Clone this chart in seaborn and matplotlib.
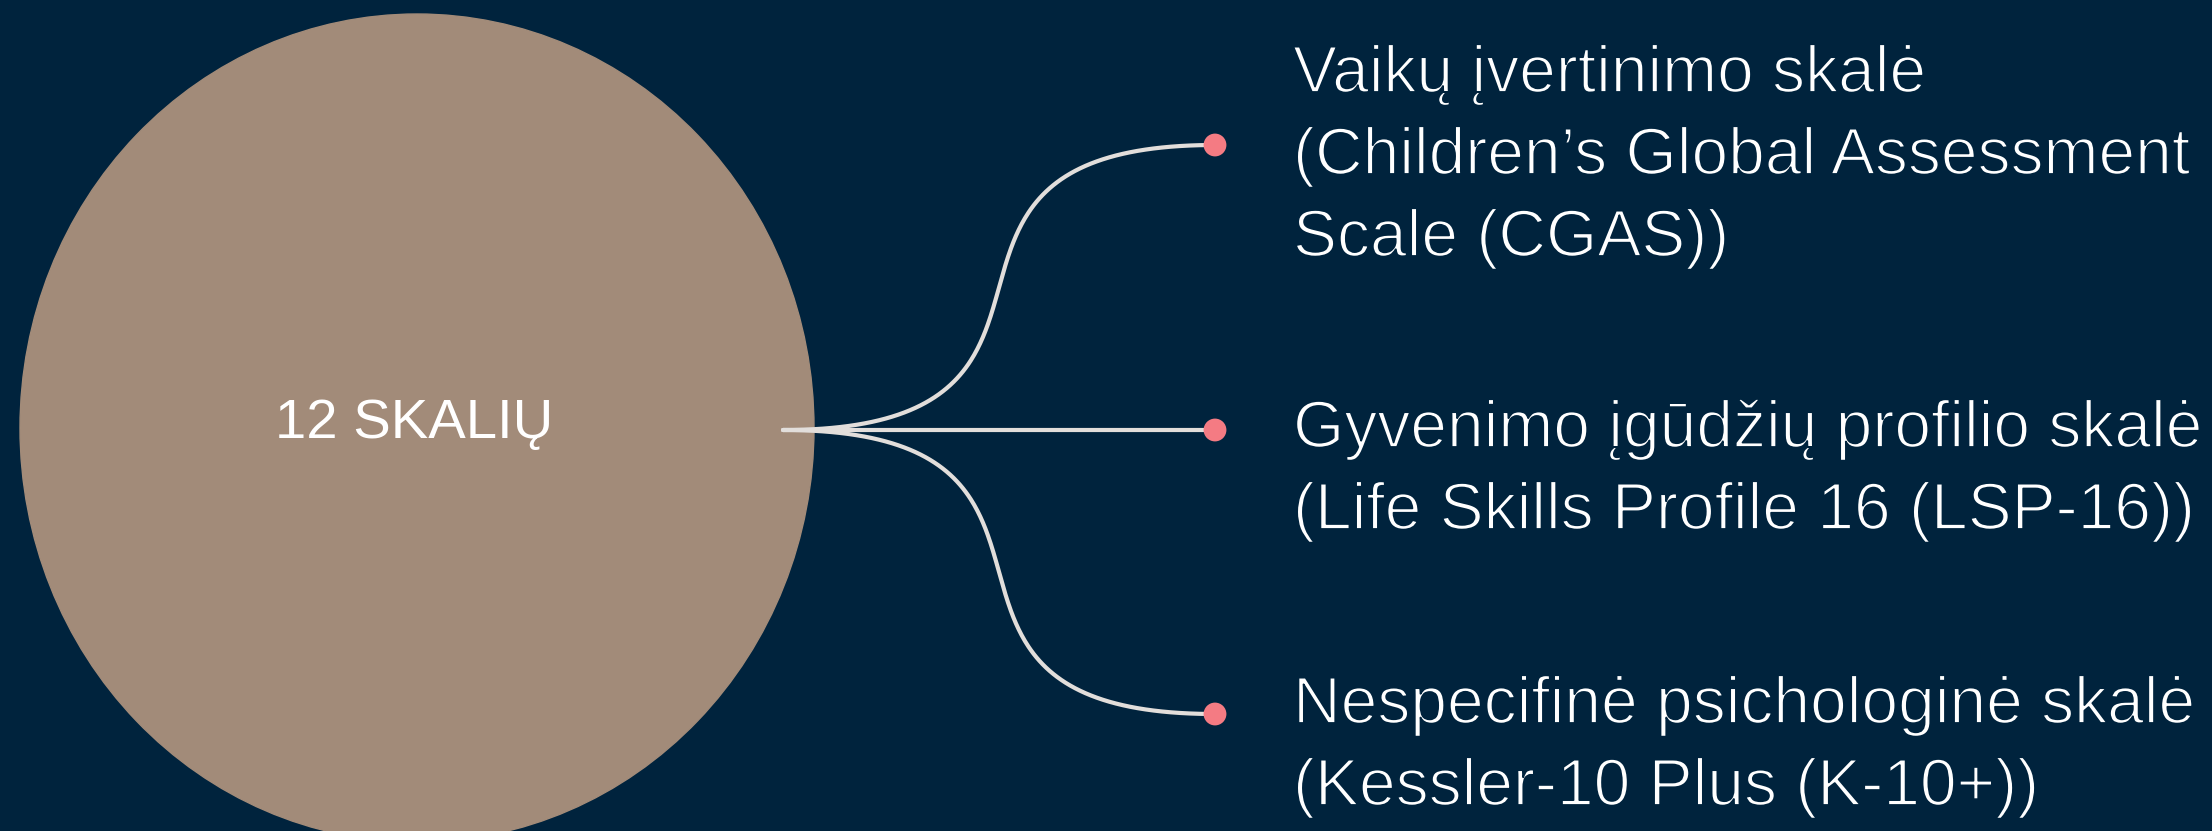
import numpy as np
import pandas as pd
import matplotlib
matplotlib.use("Agg")
import matplotlib.pyplot as plt
import matplotlib.patheffects as pe
from matplotlib.patches import Ellipse
import seaborn as sns

# -------------------------------
# Data
# -------------------------------
center_label = "12 SKALIŲ"
branch_titles = [
    "Vaikų įvertinimo skalė",
    "Gyvenimo įgūdžių profilio skalė",
    "Nespecifinė psichologinė skalė",
]
branch_details = [
    ["(Children’s Global Assessment", "Scale (CGAS))"],
    ["(Life Skills Profile 16 (LSP-16))"],
    ["(Kessler-10 Plus (K-10+))"],
]

# layout (pixel coords, y down)
W, H = 2212, 831
root = (783, 430)
dot_x = 1215
dot_y = [145, 430, 714]
text_x = 1293
text_top = [92, 447, 723]
line_gap = 82

bg = "#00233D"
circle_col = "#A28B79"
line_col = "#E2DEDB"
dot_col = "#F47B83"

sns.set_theme(style="white")
plt.rcParams["font.family"] = ["Liberation Sans", "DejaVu Sans"]

fig = plt.figure(figsize=(W / 100, H / 100), dpi=100, facecolor=bg)
ax = fig.add_axes([0, 0, 1, 1])
ax.set_facecolor(bg)

ax.add_patch(Ellipse((417, 428), 794, 828, color=circle_col, zorder=1))
ax.text(414, 424, center_label, color="white", fontsize=40.5,
        ha="center", va="center", zorder=5)


def bezier(p0, p3, a=353, n=200):
    t = np.linspace(0, 1, n)
    p1 = (p0[0] + a, p0[1])
    p2 = (p3[0] - a, p3[1])
    x = ((1 - t) ** 3) * p0[0] + 3 * ((1 - t) ** 2) * t * p1[0] + 3 * (1 - t) * t ** 2 * p2[0] + t ** 3 * p3[0]
    y = ((1 - t) ** 3) * p0[1] + 3 * ((1 - t) ** 2) * t * p1[1] + 3 * (1 - t) * t ** 2 * p2[1] + t ** 3 * p3[1]
    return x, y


frames = []
for i, y in enumerate(dot_y):
    if y == root[1]:
        x = np.linspace(root[0], dot_x, 50)
        yy = np.full_like(x, y)
    else:
        x, yy = bezier(root, (dot_x, y))
    frames.append(pd.DataFrame({"x": x, "y": yy, "branch": i}))
curves = pd.concat(frames)

for i, g in curves.groupby("branch"):
    sns.lineplot(data=g, x="x", y="y", sort=False, color=line_col,
                 linewidth=3.0, ax=ax, zorder=3, estimator=None)

dots = pd.DataFrame({"x": [dot_x] * len(dot_y), "y": dot_y})
sns.scatterplot(data=dots, x="x", y="y", s=270, color=dot_col,
                edgecolor="none", ax=ax, zorder=4)

# thin the glyphs a little (reference uses a light face)
thin = [pe.Stroke(linewidth=1.3, foreground=bg)]

for i, title in enumerate(branch_titles):
    lines = [title] + branch_details[i]
    for j, ln in enumerate(lines):
        ax.text(text_x, text_top[i] + j * line_gap, ln, color="white",
                fontsize=47.5, ha="left", va="baseline", zorder=5,
                path_effects=thin)

ax.set_xlim(0, W)
ax.set_ylim(H, 0)
ax.axis("off")
fig.savefig("out.png", dpi=100, facecolor=bg)
